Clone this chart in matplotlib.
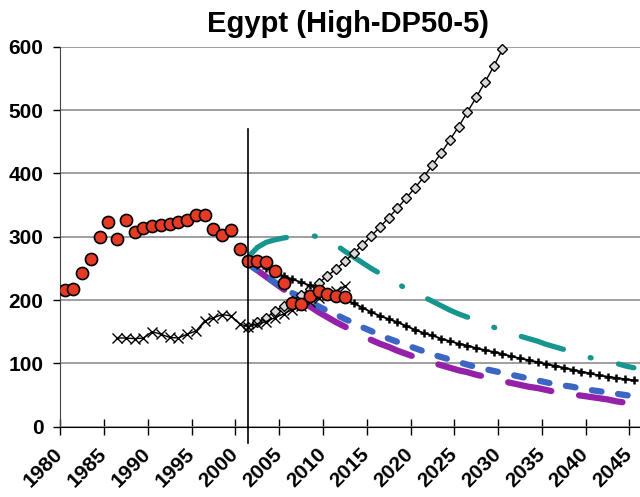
import matplotlib
matplotlib.use("Agg")
import matplotlib.pyplot as plt

plt.rcParams["font.family"] = ["Liberation Sans", "DejaVu Sans"]
plt.rcParams["font.weight"] = "bold"
plt.rcParams["lines.scale_dashes"] = False

# observed series (red circles)
hist_years = list(range(1980, 2013))
hist_values = [216, 218, 243, 265, 300, 323, 296, 327, 308, 314,
               317, 318, 320, 323, 326, 335, 335, 312, 302, 310,
               280, 262, 261, 260, 246, 227, 196, 193, 207, 215,
               210, 206, 204]

# black x-marker series
cross_years = list(range(1986, 2013))
cross_values = [140, 140, 139, 140, 150, 146, 141, 140, 146, 151,
                167, 172, 177, 175, 162, 158, 162, 166, 172, 178,
                185, 190, 197, 203, 208, 214, 222]

# projections 2001-2045
proj_years = list(range(2001, 2046))
plus_values = [262, 256, 250, 244, 238, 233, 228, 223, 218, 213,
               207, 201, 195, 188, 181, 175, 170, 165, 159, 153,
               148, 144, 139, 135, 131, 128, 124, 121, 118, 115,
               111, 108, 105, 102, 99, 96, 93, 90, 87, 84,
               81, 79, 77, 75, 73]
teal_values = [268, 283, 291, 295, 298, 300, 301, 302, 300, 294,
               287, 277, 268, 259, 250, 242, 234, 226, 218, 211,
               205, 198, 191, 184, 178, 173, 167, 162, 157, 152,
               148, 143, 139, 135, 130, 126, 122, 117, 113, 109,
               106, 103, 100, 96, 93]
blue_values = [257, 247, 237, 228, 219, 211, 204, 197, 190, 183,
               177, 170, 164, 157, 151, 145, 139, 134, 129, 124,
               119, 114, 110, 106, 102, 98, 94, 91, 88, 85,
               82, 79, 76, 73, 70, 67, 65, 63, 60, 58,
               56, 54, 52, 50, 48]
purple_values = [257, 247, 237, 227, 217, 207, 198, 190, 181, 173,
                 165, 158, 151, 144, 137, 131, 126, 120, 115, 110,
                 105, 101, 97, 93, 89, 86, 82, 79, 75, 72,
                 69, 66, 63, 61, 58, 55, 53, 51, 49, 47,
                 45, 43, 40, 38, 36]

# open diamond series
diamond_years = list(range(2001, 2031))
diamond_values = [158, 165, 172, 182, 191, 199, 208, 217, 227, 238,
                  249, 261, 274, 287, 301, 315, 330, 345, 361, 377,
                  394, 413, 432, 453, 474, 497, 520, 544, 569, 596]

tick_years = list(range(1980, 2050, 5))
y_ticks = [0, 100, 200, 300, 400, 500, 600]
divider_year = 2001

fig = plt.figure(figsize=(6.4, 4.97), dpi=100)
ax = fig.add_axes([0.094, 0.1415, 0.906, 0.7645])

ax.plot(proj_years, purple_values, color="#9621A9", lw=4.5,
        dashes=(31.7, 20.2), dash_capstyle="round", zorder=2)
ax.plot(proj_years, blue_values, color="#3B66C3", lw=4.5,
        dashes=(7.0, 12.0), dash_capstyle="round", zorder=3)
ax.plot(proj_years, teal_values, color="#16968E", lw=3.8,
        dashes=(31.7, 20.2, 0.7, 20.2), dash_capstyle="round", zorder=4)
ax.plot(diamond_years, diamond_values, color="black", lw=1.0,
        marker="D", ms=5.5, mfc="#d9d9d9", mec="black", mew=1.0,
        zorder=5, clip_on=False)
ax.plot(cross_years, cross_values, color="black", lw=1.0,
        marker="x", ms=6.5, mew=1.0, zorder=6)
ax.plot(proj_years, plus_values, color="black", lw=1.3,
        marker="+", ms=5.5, mew=1.8, zorder=7)
ax.plot(hist_years, hist_values, ls="none", marker="o", ms=8.7,
        mfc="#E53A24", mec="black", mew=1.2, zorder=8)

ax.plot([divider_year, divider_year], [-25, 470], color="black",
        lw=1.2, zorder=9, clip_on=False)

ax.set_xlim(1979.5, 2045.7)
ax.set_ylim(0, 600)
ax.set_yticks(y_ticks)
ax.set_yticklabels([str(v) for v in y_ticks], fontsize=15, fontweight="bold")
ax.set_xticks([y - 0.5 for y in tick_years])
ax.set_xticklabels([str(y) for y in tick_years], fontsize=15,
                   fontweight="bold", rotation=45, ha="right",
                   va="center", rotation_mode="anchor")

ax.yaxis.grid(True, color="#858585", lw=1.1)
ax.set_axisbelow(True)
for side in ["top", "right"]:
    ax.spines[side].set_visible(False)
ax.spines["left"].set_color("#444444")
ax.spines["bottom"].set_color("black")
ax.tick_params(axis="y", direction="out", length=5, width=1, pad=7)
ax.tick_params(axis="x", direction="inout", length=11, width=1, pad=12)

fig.text(0.543, 0.936, "Egypt (High-DP50-5)", ha="center", va="baseline",
         fontsize=21, fontweight="bold")

fig.savefig("out.png", dpi=100)
